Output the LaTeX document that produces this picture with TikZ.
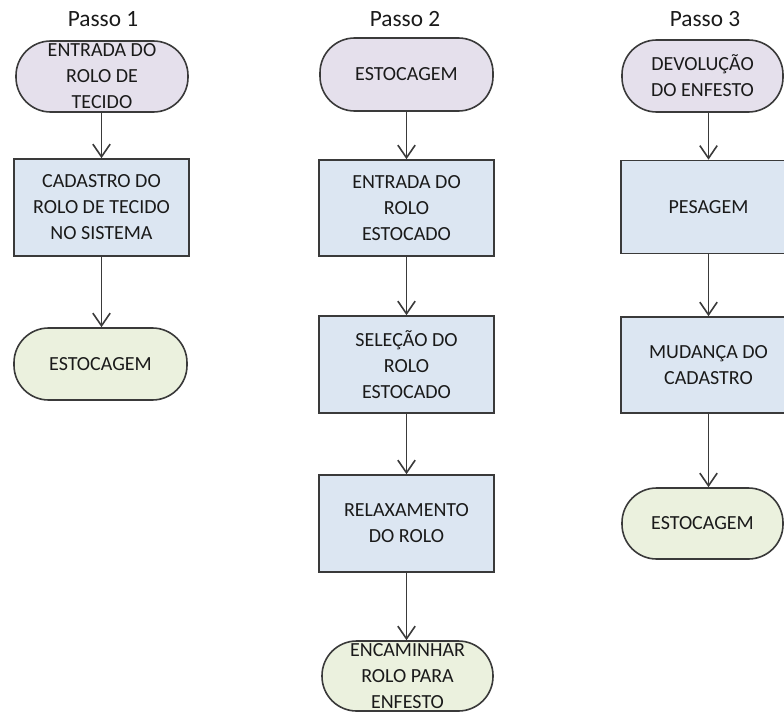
\documentclass[tikz,border=0pt]{standalone}
\usepackage{fontspec}
\setmainfont{Carlito}
\usetikzlibrary{arrows.meta}
\definecolor{startfill}{HTML}{E5E0EC}
\definecolor{stepfill}{HTML}{DCE6F2}
\definecolor{endfill}{HTML}{EBF1DE}
\definecolor{edge}{HTML}{3A3A3A}
\definecolor{ink}{HTML}{1A1A1A}
\begin{document}
\begin{tikzpicture}[x=0.75pt,y=-0.75pt,
  base/.style={draw=edge, line width=1.2pt, inner sep=0pt, align=center,
    text=ink, font=\fontsize{15}{19.5}\selectfont},
  px size/.style 2 args={minimum width=#1*0.75pt, minimum height=#2*0.75pt},
  terminal/.style={base, rounded corners=26pt},
  startterm/.style={terminal, fill=startfill},
  endterm/.style={terminal, fill=endfill},
  stepbox/.style={base, fill=stepfill},
  title/.style={font=\fontsize{17.5}{20}\selectfont, inner sep=0pt, text=ink},
  flow/.style={draw=edge, line width=1.2pt,
    -{Straight Barb[length=9.5pt,width=13pt,line width=1.2pt]}}
]
\useasboundingbox (0,0) rectangle (784,713);
\clip (0,0) rectangle (784,713);

% column titles
\node[title] (h1) at (103,19.5) {Passo 1};
\node[title] (h2) at (405,19.5) {Passo 2};
\node[title] (h3) at (705,19.5) {Passo 3};

% Passo 1
\node[startterm, px size={172}{71}] (a1) at (102,76.5) {ENTRADA DO\\ROLO DE\\TECIDO};
\node[stepbox, px size={175}{97}] (a2) at (101.5,207.5) {CADASTRO DO\\ROLO DE TECIDO\\NO SISTEMA};
\node[endterm, px size={173}{72}] (a3) at (100.5,364) {ESTOCAGEM};

% Passo 2
\node[startterm, px size={173}{73}] (b1) at (406.5,74.5) {ESTOCAGEM};
\node[stepbox, px size={175}{96}] (b2) at (406.5,208) {ENTRADA DO\\ROLO\\ESTOCADO};
\node[stepbox, px size={175}{97}] (b3) at (406.5,364.5) {SELEÇÃO DO\\ROLO\\ESTOCADO};
\node[stepbox, px size={175}{97}] (b4) at (406.5,523.5) {RELAXAMENTO\\DO ROLO};
\node[endterm, px size={171}{70}] (b5) at (407.5,676) {ENCAMINHAR\\ROLO PARA\\ENFESTO};

% Passo 3
\node[startterm, px size={161}{72}] (c1) at (702.5,76) {DEVOLUÇÃO\\DO ENFESTO};
\node[stepbox, px size={175}{93}] (c2) at (708.5,207) {PESAGEM};
\node[stepbox, px size={175}{96}] (c3) at (708.5,365) {MUDANÇA DO\\CADASTRO};
\node[endterm, px size={161}{71}] (c4) at (702.5,523.5) {ESTOCAGEM};

% connectors
\draw[flow] (a1.south -| a2.north) -- (a2.north);
\draw[flow] (a2.south) -- (a2.south |- a3.north);

\draw[flow] (b1.south) -- (b2.north);
\draw[flow] (b2.south) -- (b3.north);
\draw[flow] (b3.south) -- (b4.north);
\draw[flow] (b4.south) -- (b4.south |- b5.north);

\draw[flow] (c1.south -| c2.north) -- (c2.north);
\draw[flow] (c2.south) -- (c3.north);
\draw[flow] (c3.south) -- (c3.south |- c4.north);
\end{tikzpicture}
\end{document}
